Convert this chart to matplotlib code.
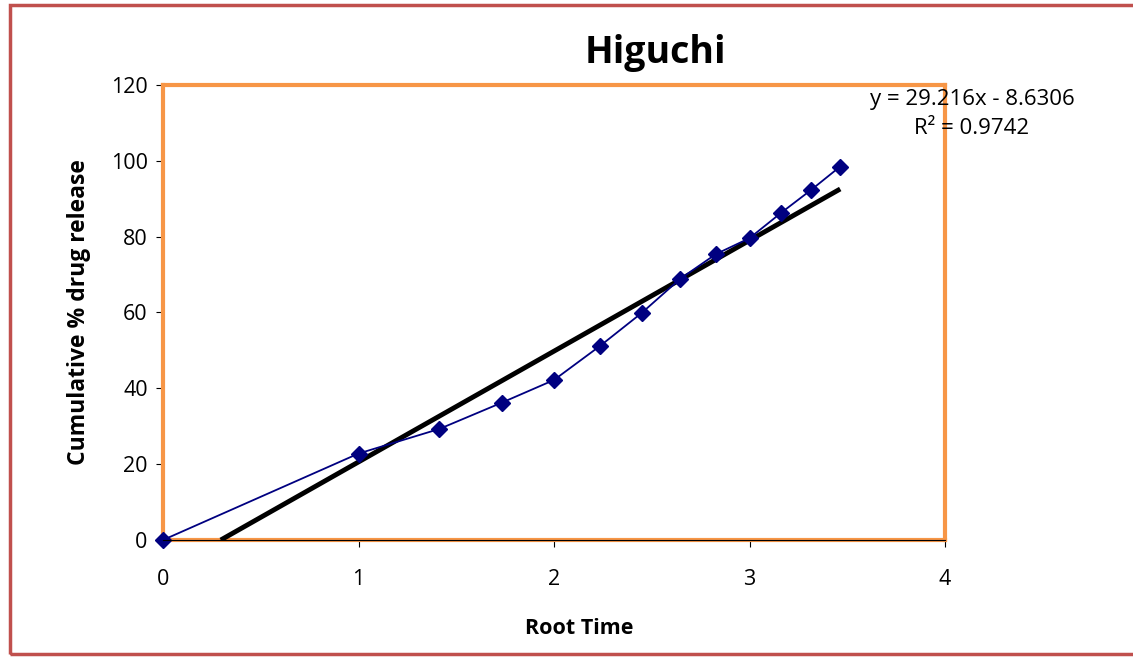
import numpy as np
import matplotlib
matplotlib.use("Agg")
import matplotlib.pyplot as plt
from matplotlib.patches import Rectangle

# root time (sqrt of hours) vs cumulative % drug release
root_time = [0, 1.0, 1.414, 1.732, 2.0, 2.236, 2.449, 2.646, 2.828, 3.0, 3.162, 3.317, 3.464]
release = [0, 22.8, 29.3, 36.2, 42.2, 51.2, 59.9, 68.9, 75.4, 79.6, 86.3, 92.4, 98.5]
x_ticks = [0, 1, 2, 3, 4]
y_ticks = [0, 20, 40, 60, 80, 100, 120]
# trendline as printed on the chart
slope = 29.216
intercept = -8.6306
r2 = 0.9742

plt.rcParams['font.family'] = ['Open Sans', 'DejaVu Sans']

W, H = 1133, 658
fig = plt.figure(figsize=(W / 100, H / 100), dpi=100)
ax = fig.add_axes([163 / W, 1 - 540 / H, (945 - 163) / W, (540 - 85) / H])

# red outer border of the chart object
fig.patches.append(Rectangle((10 / W, 4 / H), 1.2, 1 - 9 / H, transform=fig.transFigure,
                             fill=False, edgecolor='#c0504d', linewidth=2.5))

ax.plot(root_time, release, color='#000080', linewidth=1.3, marker='D',
        markersize=8.5, zorder=4, clip_on=False)

# linear trendline
x0 = -intercept / slope
xs = np.array([x0, root_time[-1]])
ax.plot(xs, slope * xs + intercept, color='black', linewidth=3.5, zorder=3,
        solid_capstyle='butt')

ax.set_xlim(0, 4)
ax.set_ylim(0, 120)
ax.set_xticks(x_ticks)
ax.set_yticks(y_ticks)
ax.tick_params(direction='out', length=5, width=0.8, labelsize=15.5)
ax.tick_params(axis='x', pad=16)
ax.tick_params(axis='y', pad=6)

for s in ax.spines.values():
    s.set_color('#f79646')
    s.set_linewidth(3)
ax.axhline(0, color='black', linewidth=0.8, zorder=5, clip_on=False)
ax.axvline(0, color='black', linewidth=0.8, zorder=2, clip_on=False)

ax.set_xlabel('Root Time', fontsize=15.5, fontweight='bold')
ax.xaxis.set_label_coords(0.532, -0.172)
ax.set_ylabel('Cumulative % drug release', fontsize=16.5, fontweight='bold', labelpad=14)
fig.text(655 / W, 1 - 53 / H, 'Higuchi', fontsize=27, fontweight='bold',
         ha='center', va='center')

fig.text(972 / W, 1 - 99 / H, 'y = %.3fx - %.4f' % (slope, -intercept), fontsize=16,
         ha='center', va='center')
fig.text(972 / W, 1 - 129 / H, 'R² = %.4f' % r2, fontsize=16,
         ha='center', va='center')

fig.savefig('out.png', dpi=100)
